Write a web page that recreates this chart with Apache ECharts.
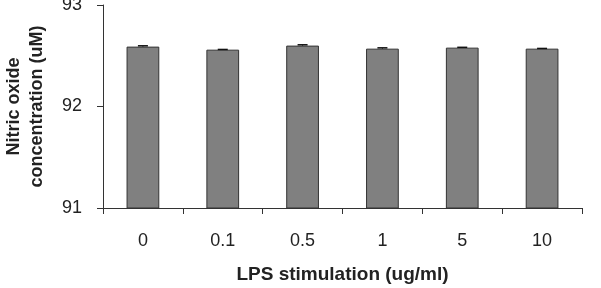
<!DOCTYPE html>
<html>
<head>
<meta charset="utf-8">
<script src="https://cdn.jsdelivr.net/npm/echarts@6/dist/echarts.min.js"></script>
<style>
  html, body { margin: 0; padding: 0; background: #fff; }
  #chart { width: 601px; height: 288px; }
</style>
</head>
<body>
<div id="chart"></div>
<script>
var categories = ['0', '0.1', '0.5', '1', '5', '10'];
var values = [92.59, 92.56, 92.60, 92.57, 92.58, 92.57];
var errors = [0.008, 0.002, 0.008, 0.008, 0.003, 0.002];
var yTicks = [91, 92, 93];

var chart = echarts.init(document.getElementById('chart'));
var font = 'Liberation Sans, Arial, sans-serif';

chart.setOption({
  animation: false,
  grid: { left: 103, right: 19, top: 5, bottom: 80, outerBoundsMode: 'none', containLabel: false },
  xAxis: {
    type: 'category',
    data: categories,
    name: 'LPS stimulation (ug/ml)',
    nameLocation: 'middle',
    nameGap: 57,
    nameTextStyle: { color: '#222', fontSize: 19, fontWeight: 'bold', fontFamily: font },
    axisLine: { lineStyle: { color: '#333', width: 1 } },
    axisTick: { show: true, alignWithLabel: false, length: 6, lineStyle: { color: '#333' } },
    axisLabel: { color: '#222', fontSize: 18, fontFamily: font, margin: 24 }
  },
  yAxis: {
    type: 'value',
    min: yTicks[0],
    max: yTicks[yTicks.length - 1],
    interval: 1,
    name: 'Nitric oxide\nconcentration (uM)',
    nameLocation: 'middle',
    nameRotate: 90,
    nameGap: 54,
    nameTextStyle: { color: '#222', fontSize: 18, fontWeight: 'bold', fontFamily: font, lineHeight: 23 },
    axisLine: { show: true, lineStyle: { color: '#333', width: 1 } },
    axisTick: { show: true, length: 6, lineStyle: { color: '#333' } },
    axisLabel: { color: '#222', fontSize: 18, fontFamily: font, margin: 21 },
    splitLine: { show: false }
  },
  series: [
    {
      type: 'bar',
      data: values,
      barWidth: '41%',
      itemStyle: { color: '#808080', borderColor: '#333', borderWidth: 1 }
    },
    {
      type: 'custom',
      data: values.map(function (v, i) { return [i, v, errors[i]]; }),
      renderItem: function (params, api) {
        var x = api.coord([api.value(0), api.value(1)])[0];
        var top = api.coord([api.value(0), api.value(1) + api.value(2)])[1];
        var base = api.coord([api.value(0), api.value(1)])[1];
        return {
          type: 'group',
          children: [
            { type: 'line', shape: { x1: x, y1: base, x2: x, y2: top }, style: { stroke: '#111', lineWidth: 1 } },
            { type: 'line', shape: { x1: x - 5, y1: top, x2: x + 5, y2: top }, style: { stroke: '#111', lineWidth: 1.5 } }
          ]
        };
      },
      z: 5
    }
  ]
});
</script>
</body>
</html>
